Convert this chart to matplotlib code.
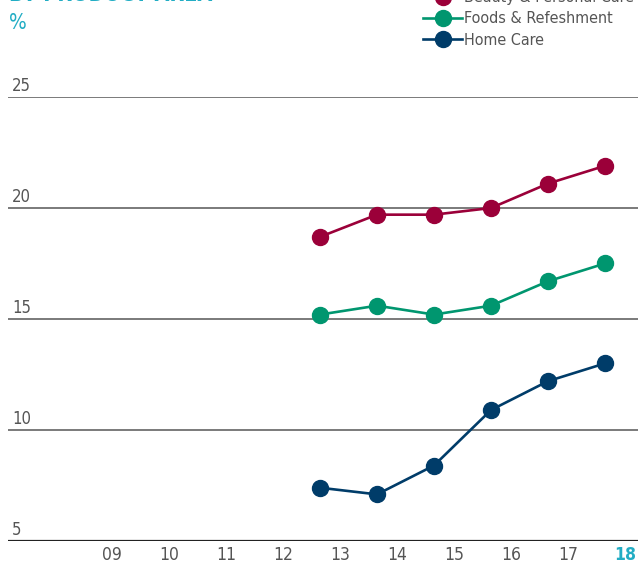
import matplotlib.pyplot as plt
from matplotlib.lines import Line2D

years = [13, 14, 15, 16, 17, 18]
beauty = [18.7, 19.7, 19.7, 20.0, 21.1, 21.9]
foods = [15.2, 15.6, 15.2, 15.6, 16.7, 17.5]
home = [7.4, 7.1, 8.4, 10.9, 12.2, 13.0]

tick_years = [9, 10, 11, 12, 13, 14, 15, 16, 17, 18]
tick_labels = ["09", "10", "11", "12", "13", "14", "15", "16", "17", "18"]
y_ticks = [5, 10, 15, 20, 25]

series = [
    ("Beauty & Personal Care", beauty, "#9b0039"),
    ("Foods & Refeshment", foods, "#00966f"),
    ("Home Care", home, "#003c69"),
]

teal = "#22adc4"
grey_txt = "#555555"
plt.rcParams["font.family"] = ["DejaVu Sans"]
plt.rcParams["font.stretch"] = "condensed"

fig = plt.figure(figsize=(6.38, 5.65), dpi=100)
ax = fig.add_axes([8 / 638, 24 / 565, 630 / 638, 444 / 565])

for name, vals, col in series:
    ax.plot(years, vals, color=col, lw=1.9, marker="o", ms=11.5, label=name)

ax.set_xlim(7.526, 18.579)
ax.set_ylim(5, 25)

for s in ax.spines.values():
    s.set_visible(False)
ax.set_xticks([])
ax.set_yticks([])

# gridlines and y labels sit above each line
for v in y_ticks:
    if v == 5:
        ax.axhline(v, color="#222222", lw=1.6, zorder=0)
    else:
        ax.axhline(v, color="#7a7a7a", lw=1.4, zorder=0)
    ax.text(7.6, v + 0.1, str(v), ha="left", va="bottom", fontsize=12,
            color=grey_txt)

# year labels sit a little to the right of each point
for yr, lab in zip(tick_years, tick_labels):
    last = yr == tick_years[-1]
    ax.text(yr + 0.35, 4.78, lab, ha="center", va="top", fontsize=12.5,
            color=teal if last else grey_txt,
            fontweight="bold" if last else "normal", clip_on=False)

fig.text(9 / 638, 1 - 1 / 565, "BY PRODUCT AREA", ha="left", va="baseline",
         fontsize=15.5, fontweight="bold", color=teal)
fig.text(9 / 638, 1 - 29 / 565, "%", ha="left", va="baseline",
         fontsize=15, color=teal)

handles = [Line2D([], [], color=c, lw=1.9, marker="o", ms=11.5) for _, _, c in series]
fig.legend(handles, [n for n, _, _ in series], loc="upper left",
           bbox_to_anchor=(417 / 638, 1 + 16 / 565), frameon=False,
           fontsize=11.5, handlelength=2.4, handletextpad=0.15,
           labelspacing=0.38, borderaxespad=0, labelcolor=grey_txt)

fig.savefig("out.png", dpi=100)
